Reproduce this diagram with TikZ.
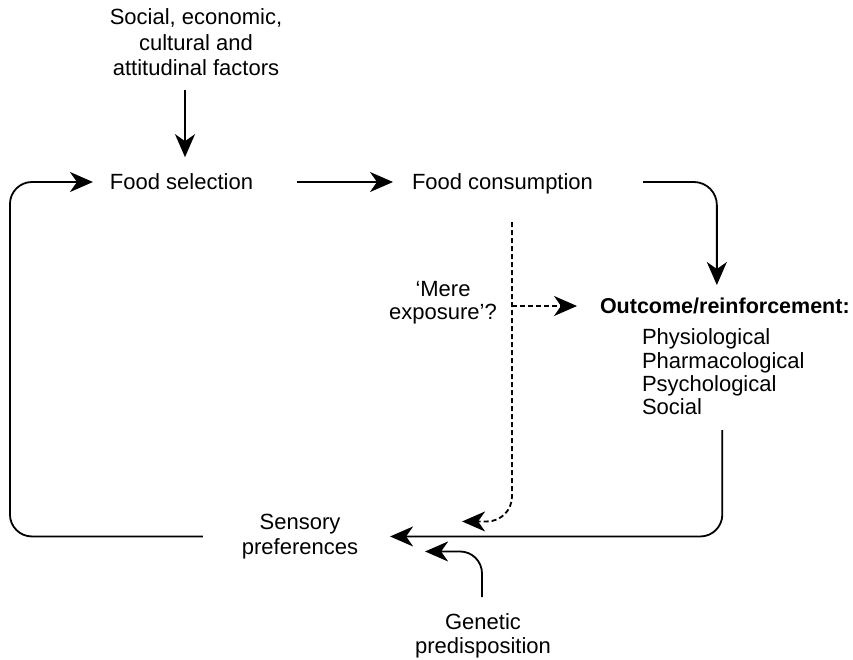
\documentclass[tikz,border=0pt]{standalone}
\usepackage{fontspec}
\setmainfont{Liberation Sans}
\usetikzlibrary{arrows.meta}
\newcommand\fszreg{\fontsize{22}{25.5}\selectfont}
\begin{document}
\begin{tikzpicture}[x=1pt,y=-1pt,
  lbl/.style={inner sep=0pt, outer sep=0pt, font=\fszreg},
  one/.style={lbl, text height=16pt, text depth=2pt},
  arr/.style={line width=1.8pt, -{Stealth[length=23pt,width=20pt,inset=7pt]}},
  dsh/.style={dash pattern=on 5pt off 3pt},
]
\useasboundingbox (0,0) rectangle (853,659);

\node[lbl, align=center, anchor=north] (factors) at (196,9) {Social, economic,\\cultural and\\attitudinal factors};
\node[one] (sel) at (181.5,182) {Food selection};
\node[one] (cons) at (502.5,182) {Food consumption};
\node[one, anchor=west, font=\fontsize{21.5}{25}\selectfont\bfseries] (out) at (600,306) {Outcome/reinforcement:};
\node[lbl, align=left, anchor=north west, font=\fontsize{22}{23.3}\selectfont] (list) at (642,329) {Physiological\\Pharmacological\\Psychological\\Social};
\node[lbl, align=center, anchor=north, font=\fontsize{22}{23.5}\selectfont] (mere) at (443,281) {‘Mere\\exposure’?};
\node[lbl, align=center, anchor=north, font=\fontsize{22}{25}\selectfont] (sens) at (300,514) {Sensory\\preferences};
\node[lbl, align=center, anchor=north, font=\fontsize{22}{24}\selectfont] (gen) at (483,614) {Genetic\\predisposition};

\coordinate (dtop) at ([xshift=9.5,yshift=-31]cons.south);

\draw[arr] ([xshift=-11,yshift=-14]factors.south) -- ++(0,67);
\draw[arr] ([xshift=44]sel.east) -- ([xshift=-19]cons.west);
\draw[arr, rounded corners=23] ([xshift=50]cons.east) -| ([xshift=-8,yshift=12]out.north);
\draw[arr, rounded corners=22] ([xshift=-1,yshift=-15]list.south) |- ([xshift=32]sens.east);
\draw[arr, rounded corners=22] ([xshift=-39]sens.west) -| ([xshift=-100]sel.west) -- ([xshift=-17]sel.west);
\draw[arr, dsh, rounded corners=25] (dtop) |- ([xshift=104,yshift=15]sens.east);
\draw[arr, dsh] (dtop |- out.west) -- ([xshift=-23]out.west);
\draw[arr, rounded corners=22] ([xshift=-1,yshift=17]gen.north) |- ([xshift=67,yshift=-15]sens.east);
\end{tikzpicture}
\end{document}
